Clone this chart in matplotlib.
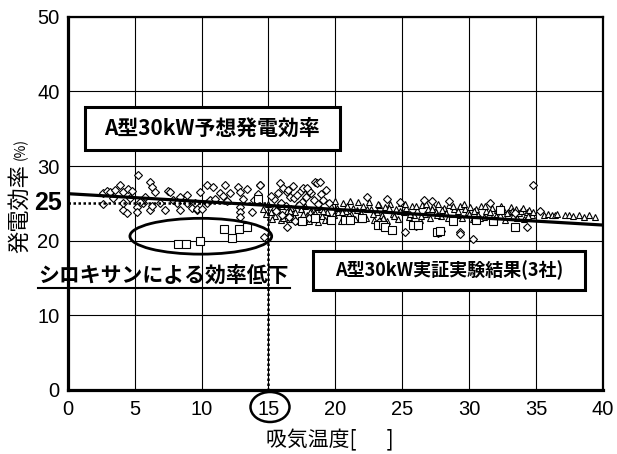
import numpy as np
import matplotlib
matplotlib.use("Agg")
import matplotlib.pyplot as plt
from matplotlib.patches import Ellipse, Rectangle
from matplotlib.lines import Line2D

plt.rcParams['font.family'] = ['Liberation Sans', 'Noto Sans CJK JP', 'DejaVu Sans']
JP = ['Noto Sans CJK JP', 'DejaVu Sans']

# ---------------------------------------------------------------------------
# data (intake temperature [C], efficiency [%])
# ---------------------------------------------------------------------------
dia_x = [2.62, 2.92, 3.14, 3.51, 3.89, 4.11, 4.49, 4.79, 5.23, 5.76, 6.13, 6.28, 6.50,
         7.48, 7.63, 8.37, 8.90, 2.62, 4.11, 4.41, 4.11, 5.16, 5.16, 5.61, 6.13, 6.28,
         6.88, 7.25, 7.85, 8.15, 8.37, 8.90, 9.27, 9.64, 5.38, 4.64, 3.36,
         9.87, 10.39, 10.84, 11.74, 12.71, 12.86, 13.38, 14.36, 14.40, 9.50, 9.64, 10.0,
         10.39, 11.36, 11.59, 12.1, 12.86, 12.86, 13.76, 12.86, 10.6, 11.0, 11.9, 13.1,
         13.9, 14.2, 14.7,
         15.85, 15.7, 16.37, 16.1, 16.6, 16.37, 17.35, 17.6, 18.47, 18.6, 18.84, 18.2,
         17.5, 16.45, 15.4, 15.9, 16.9, 17.1, 17.8, 18.0, 18.4, 18.9, 19.1, 19.3, 18.7,
         17.3, 16.3, 15.6, 19.5, 16.8, 17.9, 15.2, 16.0, 16.5, 18.0, 17.0,
         22.4, 24.8, 25.2, 23.9, 26.6, 27.2, 28.5, 29.3, 29.3, 30.3, 31.55, 34.8, 35.3,
         34.3, 33.4, 27.7, 27.9, 21.0, 23.3, 26.0]
dia_y = [26.4, 26.7, 26.5, 26.8, 27.5, 26.5, 26.9, 26.7, 28.8, 25.9, 27.9, 27.2, 26.5,
         26.7, 26.5, 25.9, 26.1, 24.9, 24.1, 23.7, 25.1, 24.5, 23.9, 25.1, 24.1, 24.7,
         25.1, 24.1, 25.5, 25.1, 24.1, 25.1, 24.4, 24.1, 25.2, 25.7, 25.7,
         26.5, 27.5, 27.2, 27.5, 27.2, 26.5, 26.9, 27.5, 27.4, 25.1, 24.3, 24.3,
         25.1, 26.4, 26.0, 26.4, 24.5, 23.9, 23.9, 23.2, 25.4, 25.6, 25.3, 25.6,
         25.5, 26.3, 20.5,
         27.7, 26.4, 26.5, 27.0, 25.9, 21.9, 26.5, 27.1, 27.9, 27.7, 27.9, 26.4,
         25.2, 26.8, 25.6, 25.0, 25.7, 26.1, 25.9, 26.6, 25.5, 26.2, 25.4, 26.8, 24.9,
         24.8, 24.6, 24.0, 25.0, 27.3, 27.0, 26.0, 23.5, 23.2, 23.0, 22.6,
         25.9, 25.2, 21.2, 25.6, 25.5, 25.3, 25.3, 21.2, 20.9, 20.2, 25.1, 27.5, 24.0,
         21.9, 23.7, 21.1, 21.3, 23.2, 22.5, 22.0]

tri_x = [14.6, 14.8, 15.0, 15.2, 15.4, 15.5, 15.7, 15.9, 16.0, 16.2, 16.4, 16.5, 16.7,
         16.9, 17.0, 17.2, 17.4, 17.5, 17.7, 17.9, 18.0, 18.2, 18.4, 18.5, 18.7, 18.9,
         19.0, 19.2, 19.4, 19.5, 19.7, 19.9,
         20.0, 20.2, 20.4, 20.6, 20.8, 21.0, 21.1, 21.3, 21.5, 21.7, 21.9, 22.1, 22.3,
         22.5, 22.7, 22.9, 23.1, 23.3, 23.5, 23.7, 23.9, 24.1, 24.3, 24.5, 24.7, 24.9,
         25.1, 25.3, 25.5, 25.7, 25.9, 26.1, 26.3, 26.5, 26.7, 26.9, 27.1, 27.3, 27.5,
         27.7, 27.9, 28.1, 28.3, 28.5, 28.7, 28.9, 29.1, 29.3, 29.5, 29.7, 29.9, 30.1,
         30.3, 30.5, 30.7, 30.9, 31.1, 31.3, 31.5, 31.7, 31.9, 32.1, 32.3, 32.5, 32.7,
         32.9, 33.1, 33.3, 33.5, 33.7, 33.9, 34.1, 34.3, 34.5, 34.7,
         35.6, 35.9, 36.2, 36.4, 36.6, 37.2, 37.5, 37.8, 38.2, 38.6, 39.0, 39.4,
         20.1, 20.5, 20.9, 21.2, 21.6, 22.0, 22.4, 22.8, 23.2, 23.6, 24.0, 24.4, 24.8,
         25.2, 25.6, 26.0, 26.4, 26.8, 27.2, 27.6, 28.0, 28.4, 28.8, 29.2, 29.6, 30.0,
         30.4, 30.8, 31.2, 31.6, 32.0, 32.4, 32.8, 33.2, 33.6, 34.0, 34.4, 34.8,
         16.1, 16.6, 17.1, 17.6, 18.1, 18.6, 19.1, 19.6, 15.3, 15.8]
tri_y = [24.3, 23.6, 24.9, 23.9, 24.5, 23.3, 24.1, 22.8, 24.6, 23.5, 24.0, 22.9, 24.4,
         23.2, 23.8, 22.6, 24.2, 23.0, 24.7, 23.4, 22.7, 24.0, 23.1, 23.7, 22.5, 24.3,
         23.3, 22.8, 23.9, 22.9, 24.6, 23.5,
         25.3, 23.8, 22.6, 25.1, 24.0, 23.2, 25.3, 24.4, 22.9, 25.2, 23.7, 24.6, 23.1,
         25.2, 24.2, 22.8, 23.9, 24.8, 23.4, 24.5, 22.7, 24.9, 23.6, 24.2, 22.9, 25.0,
         23.8, 24.4, 23.2, 24.7, 23.5, 24.1, 22.8, 24.8, 23.6, 24.3, 23.0, 24.6, 23.9,
         24.9, 23.3, 24.4, 23.7, 24.8, 22.9, 24.2, 23.5, 24.6, 23.1, 24.3, 23.8, 24.5,
         22.9, 24.2, 23.5, 24.6, 23.2, 24.0, 23.6, 24.4, 22.9, 24.1, 23.4, 24.3, 22.8,
         23.9, 24.5, 23.3, 24.2, 23.7, 24.0, 22.9, 23.8, 24.1, 23.5,
         23.4, 23.6, 23.5, 23.4, 23.6, 23.4, 23.5, 23.3, 23.4, 23.2, 23.4, 23.2,
         24.4, 23.9, 24.7, 23.6, 24.1, 22.9, 24.3, 23.6, 24.9, 23.0, 24.4, 23.3, 24.0,
         24.9, 23.6, 24.6, 23.3, 24.9, 24.2, 23.4, 24.1, 23.1, 24.6, 24.0, 24.9, 23.6,
         24.0, 23.0, 24.7, 23.9, 23.3, 24.6, 23.7, 24.0, 23.0, 24.4, 23.3, 23.9,
         23.0, 24.0, 24.8, 23.6, 23.9, 24.5, 24.0, 23.1, 22.9, 24.9]

sq_x = [8.2, 8.8, 9.9, 11.7, 12.3, 12.8, 13.4, 14.2,
        19.7, 20.7, 21.1, 23.2, 23.55, 23.7, 24.2, 25.8, 26.2, 27.6, 27.8, 32.3, 33.4,
        17.5, 18.5, 22.0, 28.8, 30.5, 31.8]
sq_y = [19.6, 19.6, 20.0, 21.6, 20.4, 21.6, 21.8, 25.6,
        22.8, 22.8, 22.8, 22.1, 22.1, 21.9, 21.4, 22.1, 22.1, 21.2, 21.3, 24.1, 21.9,
        22.6, 23.0, 23.0, 22.7, 22.8, 22.6]

# predicted efficiency line (end points)
fit_x = [0, 40]
fit_y = [26.3, 22.1]

x_ticks = [0, 5, 10, 15, 20, 25, 30, 35, 40]
y_ticks = [0, 10, 20, 30, 40, 50]

# ---------------------------------------------------------------------------
fig = plt.figure(figsize=(6.17, 4.54), dpi=100)
ax = fig.add_axes([0.110, 0.141, 0.867, 0.822])
ax.set_xlim(0, 40)
ax.set_ylim(0, 50)
ax.set_xticks(x_ticks)
ax.set_yticks(y_ticks)
ax.tick_params(length=0, labelsize=14.5, pad=7)
ax.tick_params(axis='y', pad=6)
ax.grid(True, color='black', lw=0.8)
ax.set_axisbelow(True)
for s in ['left', 'bottom']:
    ax.spines[s].set_linewidth(2.3)
for s in ['top', 'right']:
    ax.spines[s].set_linewidth(1.6)

mk = dict(ls='none', mfc='white', mec='black', mew=0.8)
ax.plot(tri_x, tri_y, marker='^', ms=5, zorder=3, **mk)
ax.plot(dia_x, dia_y, marker='D', ms=4, zorder=3, **mk)
ax.plot(sq_x, sq_y, marker='s', ms=5.5, zorder=3, **mk)
ax.plot(fit_x, fit_y, color='black', lw=2.3, zorder=4)

# dotted guide lines at 15 C / 25 %
ax.plot([0, 15], [25, 25], color='black', ls=(0, (1, 1)), lw=1.8, zorder=4)
ax.plot([15, 15], [25, 0], color='black', ls=(0, (1, 1)), lw=1.8, zorder=4)
ax.text(-0.012, 25, '25', transform=ax.get_yaxis_transform(), ha='right', va='center',
        fontsize=18, fontweight='bold')

# siloxane ellipse
ax.add_patch(Ellipse((9.94, 20.6), 10.6, 4.8, fill=False, ec='black', lw=2, zorder=5))

# labelled boxes
ax.add_patch(Rectangle((1.27, 32.2), 19.07, 5.7, fc='white', ec='black', lw=2.2, zorder=5))
ax.text(10.8, 35.05, 'A型30kW予想発電効率', ha='center', va='center', fontsize=15,
        fontweight='bold', family=JP, zorder=6)
ax.add_patch(Rectangle((18.32, 13.4), 20.33, 5.2, fc='white', ec='black', lw=2.2, zorder=5))
ax.text(28.5, 16.0, 'A型30kW実証実験結果(3社)', ha='center', va='center', fontsize=13,
        fontweight='bold', family=JP, zorder=6)

ax.text(-2.24, 15.4, 'シロキサンによる効率低下', ha='left', va='center', fontsize=15,
        fontweight='bold', family=JP, zorder=6, clip_on=False)
ax.add_line(Line2D([-2.24, 16.6], [13.7, 13.7], color='black', lw=1.5, clip_on=False, zorder=6))

# circle round the 15 tick label
fig.add_artist(Ellipse((270 / 617, 1 - 407 / 454), 39 / 617, 30 / 454, fill=False,
                       ec='black', lw=1.8, transform=fig.transFigure))

# axis titles
fig.text(330 / 617, 1 - 440 / 454, '吸気温度[　  ]', ha='center', va='center', fontsize=15,
         family=JP)
fig.text(20 / 617, 1 - 253 / 454, '発電効率', rotation=90, ha='center', va='bottom',
         fontsize=16, family=JP)
fig.text(21 / 617, 1 - 160 / 454, '(%)', rotation=90, ha='center', va='bottom',
         fontsize=10, family=JP)

fig.savefig('out.png', dpi=100)
